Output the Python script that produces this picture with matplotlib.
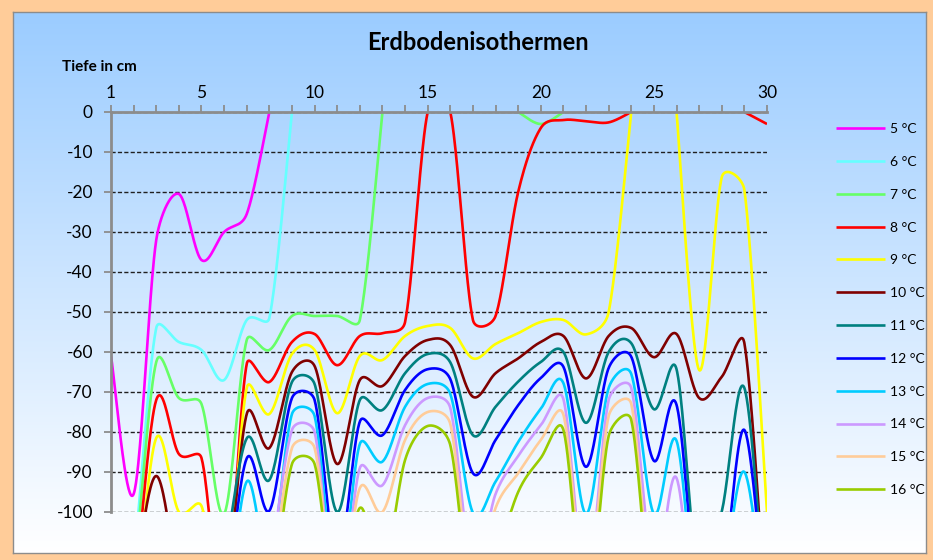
import numpy as np
import matplotlib
matplotlib.use("Agg")
import matplotlib.pyplot as plt

plt.rcParams['font.family'] = ['Lato', 'DejaVu Sans']
plt.rcParams['axes.unicode_minus'] = False

nan = np.nan

days = list(range(1, 31))
x_tick_labels = ['1', '', '', '', '5', '', '', '', '', '10', '', '', '', '', '15',
                 '', '', '', '', '20', '', '', '', '', '25', '', '', '', '', '30']
y_ticks = [0, -10, -20, -30, -40, -50, -60, -70, -80, -90, -100]
y_tick_labels = ['0', '-10', '-20', '-30', '-40', '-50', '-60', '-70', '-80', '-90', '-100']

series_labels = ['5 °C', '6 °C', '7 °C', '8 °C', '9 °C', '10 °C',
                 '11 °C', '12 °C', '13 °C', '14 °C', '15 °C', '16 °C']
series_colors = ['#FF00FF', '#66FFFF', '#66FF66', '#FF0000', '#FFFF00', '#800000',
                 '#008080', '#0000FF', '#00CCFF', '#CC99FF', '#FFCC99', '#99CC00']

# depth (cm) of each isotherm per day; nan = isotherm not present (above surface)
t05 = [-61, -95.5, -32, -20.5, -37, -30, -25.5, 0] + [nan] * 22
t06 = [-150, -112, -54, -57.5, -59.5, -67, -52, -51.5, 0] + [nan] * 21
t07 = [-150, -115, -62.5, -71.5, -73, -100.5, -57, -59.5, -51, -51, -51, -52, 0,
       nan, nan, nan, nan, nan, 0, -3, 0] + [nan] * 9
t08 = [-150, -120, -72, -85.5, -86.5, -125, -63, -67.5, -57.5, -55.5, -63.3, -56, -55.3, -52.5, 0,
       0, -52, -51, -20, -4, -2, -2.3, -2.6, 0, nan, nan, nan, nan, 0, -3]
t09 = [-150, -125, -81.5, -100, -98.5, -125, -69, -75.5, -60.5, -59.5, -75.3, -61, -62, -56, -53.5,
       -54, -61.6, -58, -55.3, -52.5, -52, -55.6, -50, 0, nan, 0, -64.5, -16.3, -19.5, -100]
t10 = [-150, -118, -91, -118, -140, -125, -75.5, -84, -65, -63.5, -88, -67, -68.5, -61, -57,
       -58.3, -71.2, -65.3, -61.6, -57.5, -56, -66.6, -56, -54, -61.3, -55.5, -71.5, -66.2, -57.8, -130]
t11 = [-150, -150, -150, -140, -140, -112, -81.6, -92, -67.5, -68, -100, -72, -74.5, -65.3, -60.5,
       -62.6, -80.8, -73.7, -67.4, -62.5, -60, -77.7, -60, -57.8, -74.3, -64.3, -118, -100, -69, -130]
t12 = [-150, -150, -150, -150, -150, -125, -86.6, -99.7, -71.5, -72, -112, -77.4, -80.8, -69.5, -64.3,
       -66.8, -90.3, -82, -73.3, -66.5, -63.7, -88.7, -64, -61.2, -87.2, -73.2, -125, -118, -79.5, -130]
t13 = [-150, -150, -150, -150, -150, -130, -92.4, -112, -75.5, -76, -120, -83, -87.4, -73.7, -68,
       -70.5, -100.2, -92.4, -82.5, -74.2, -67.8, -100.5, -69, -65.5, -100.5, -82.2, -130, -118, -90, -130]
t14 = [-150, -150, -150, -150, -150, -150, -150, -115, -79.5, -80, -125, -89, -93.3, -78.3, -71.5,
       -74, -115, -95.5, -86, -78.3, -71.8, -118, -72, -69, -115, -91.5, -140, -150, -130, -150]
t15 = [-150, -150, -150, -150, -150, -150, -150, -120, -84, -84, -125, -94, -100, -82, -75,
       -78, -120, -99, -90.3, -82, -75.7, -120, -76, -73, -125, -115, -150, -150, -150, -150]
t16 = [-150, -150, -150, -150, -150, -150, -150, -125, -88, -88, -125, -99, -115, -87, -78.5,
       -83.3, -125, -112, -95, -86.5, -79.5, -125, -81, -77, -130, -130, -150, -150, -150, -150]

series = [t05, t06, t07, t08, t09, t10, t11, t12, t13, t14, t15, t16]


def bezier_run(P, n=40):
    """Excel-style smoothed line through display-space points P (k x 2)."""
    m = len(P)
    t = np.linspace(0, 1, n)[:, None]
    pts = [P[0:1]]
    for k in range(m - 1):
        p1, p2 = P[k], P[k + 1]
        p0 = P[k - 1] if k > 0 else p1
        p3 = P[k + 2] if k + 2 < m else p2
        d12 = np.hypot(*(p2 - p1))
        d02 = np.hypot(*(p2 - p0))
        d13 = np.hypot(*(p3 - p1))
        f1 = 1 / 6 if d02 / 6 < d12 / 2 else (d12 / (2 * d02) if d02 > 0 else 0)
        f2 = 1 / 6 if d13 / 6 < d12 / 2 else (d12 / (2 * d13) if d13 > 0 else 0)
        c1 = p1 + (p2 - p0) * f1
        c2 = p2 - (p3 - p1) * f2
        seg = ((1 - t) ** 3) * p1 + 3 * ((1 - t) ** 2) * t * c1 + 3 * (1 - t) * t ** 2 * c2 + t ** 3 * p2
        pts.append(seg[1:])
    return np.vstack(pts)


def smooth(ax, xs, ys):
    xs = np.asarray(xs, float)
    ys = np.asarray(ys, float)
    ok = np.isfinite(ys)
    out = []
    i = 0
    while i < len(ys):
        if not ok[i]:
            i += 1
            continue
        j = i
        while j < len(ys) and ok[j]:
            j += 1
        if j - i >= 2:
            disp = ax.transData.transform(np.column_stack([xs[i:j], ys[i:j]]))
            curve = ax.transData.inverted().transform(bezier_run(disp))
            out.append(curve)
            out.append(np.array([[nan, nan]]))
        i = j
    arr = np.vstack(out)
    return arr[:, 0], arr[:, 1]


W, H = 933, 560
fig = plt.figure(figsize=(W / 100, H / 100), dpi=100)
fig.patch.set_facecolor('#FFCC99')

# inner gradient panel
l, t_, r, b = 13, 12, 926, 553
bg = fig.add_axes([l / W, 1 - b / H, (r - l) / W, (b - t_) / H])
top = np.array([155, 204, 255]) / 255.0
bot = np.array([255, 255, 255]) / 255.0
f = np.linspace(0, 1, 256)[:, None]
grad = top[None, :] * (1 - f) + bot[None, :] * f
grad = np.clip(grad, 0, 1)[:, None, :]
bg.imshow(grad, aspect='auto', extent=[0, 1, 0, 1], origin='upper')
bg.set_xlim(0, 1)
bg.set_ylim(0, 1)
bg.set_xticks([])
bg.set_yticks([])
for s in bg.spines.values():
    s.set_color('#8C8C8C')
    s.set_linewidth(1.0)

ax = fig.add_axes([111 / W, 1 - 512 / H, (767 - 111) / W, 400 / H])
ax.patch.set_alpha(0)
ax.set_xlim(1, 30)
ax.set_ylim(-100, 0)

for vals, lab, col in zip(series, series_labels, series_colors):
    sx, sy = smooth(ax, days, vals)
    ax.plot(sx, sy, color=col, lw=1.9, label=lab, solid_capstyle='butt', zorder=3)

ax.set_xlim(1, 30)
ax.set_ylim(-100, 0)
ax.xaxis.tick_top()
ax.set_xticks(days)
ax.set_xticklabels(x_tick_labels)
ax.set_yticks(y_ticks)
ax.set_yticklabels(y_tick_labels)
ax.tick_params(axis='x', direction='out', length=5, width=1.3, color='#8C8C8C',
               pad=3, labelsize=12.5, labelcolor='black')
ax.tick_params(axis='y', direction='out', length=5, width=1.3, color='#8C8C8C',
               pad=8, labelsize=12.5, labelcolor='black')
ax.yaxis.grid(True, linestyle=(0, (3, 1.6)), color='#202020', lw=1.0)
ax.set_axisbelow(True)
for side in ['right', 'bottom']:
    ax.spines[side].set_visible(False)
for side in ['top', 'left']:
    ax.spines[side].set_color('#8C8C8C')
    ax.spines[side].set_linewidth(2.0)
    ax.spines[side].set_zorder(4)

fig.text(478 / W, 1 - 42 / H, 'Erdbodenisothermen', ha='center', va='center',
         fontsize=17, fontweight='bold')
fig.text(62 / W, 1 - 67 / H, 'Tiefe in cm', ha='left', va='center',
         fontsize=11, fontweight='bold')

leg = fig.legend(loc='upper left', bbox_to_anchor=(836 / W, 1 - 123 / H),
                 frameon=False, fontsize=10, handlelength=3.5, handletextpad=0.4,
                 labelspacing=1.5, borderaxespad=0, borderpad=0)

fig.savefig('out.png', dpi=100, facecolor=fig.get_facecolor())
